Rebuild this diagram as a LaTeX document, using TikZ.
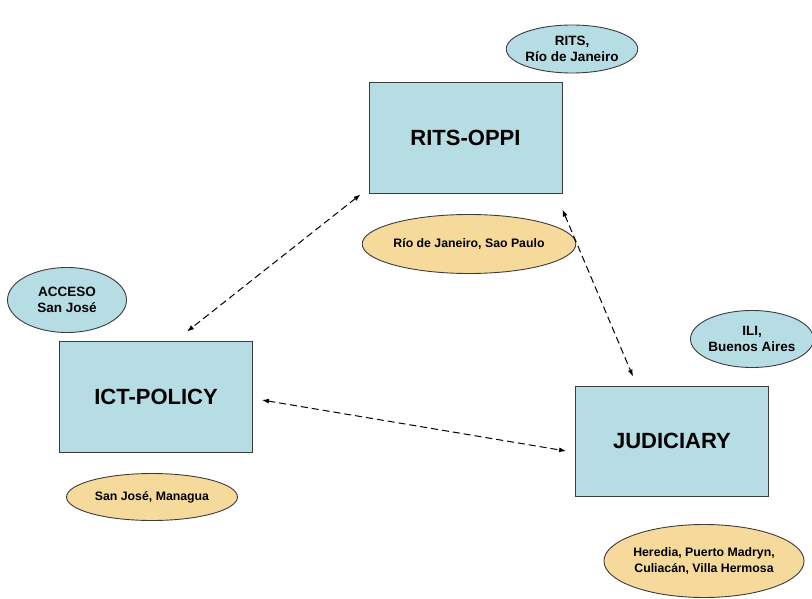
\documentclass[tikz,border=0pt]{standalone}
\usepackage{fontspec}
\setmainfont{Liberation Sans}
\usepackage{tikz}
\usetikzlibrary{shapes.geometric}
\usetikzlibrary{arrows.meta}

\definecolor{boxblue}{RGB}{183,221,228}
\definecolor{ovalsand}{RGB}{246,218,155}
\definecolor{rimgray}{RGB}{60,60,60}

\begin{document}
\begin{tikzpicture}[x=1pt,y=-1pt,
unit box/.style={rectangle,draw=rimgray,line width=0.9pt,fill=boxblue,inner sep=0,
                 minimum width=193pt,minimum height=111pt,
                 font=\fontsize{22}{26}\selectfont\bfseries},
site oval/.style={ellipse,draw=rimgray,line width=0.9pt,fill=boxblue,inner sep=0,align=center,
                 font=\fontsize{13.5}{16.5}\selectfont\bfseries},
city oval/.style={ellipse,draw=rimgray,line width=0.9pt,fill=ovalsand,inner sep=0,align=center,
                 font=\fontsize{12.3}{16.5}\selectfont\bfseries},
link/.style={dashed,dash pattern=on 7pt off 4pt,line width=1pt,
                 {Latex[length=7pt,width=5pt]}-{Latex[length=7pt,width=5pt]}}]
\useasboundingbox (0,0) rectangle (812,599);
%==================
\node[unit box] (rits) at (465.5,137.5) {RITS-OPPI};
\node[unit box] (ict) at (156,396.5) {ICT-POLICY};
\node[unit box,minimum height=110pt] (jud) at (672,441) {JUDICIARY};
%==================
\node[site oval,minimum width=127pt,minimum height=48pt] (ritsoval) at (572,49) {RITS,\\Río de Janeiro};
\node[site oval,minimum width=119pt,minimum height=65pt] (acceso) at (67,300) {ACCESO\\San José};
\node[site oval,minimum width=120pt,minimum height=57pt] (ili) at (752,339) {ILI,\\Buenos Aires};
%==================
\node[city oval,minimum width=172pt,minimum height=59pt] (rio) at (469,244) {Río de Janeiro, Sao Paulo};
\node[city oval,minimum width=171pt,minimum height=47pt] (sanjose) at (152,497) {San José, Managua};
\node[city oval,minimum width=171pt,minimum height=73pt] (heredia) at (704,561) {Heredia, Puerto Madryn,\\Culiacán, Villa Hermosa};
% ===================
\draw[link] ([xshift=-8pt,yshift=-1pt]rits.south west) -- ([xshift=31pt,yshift=9pt]ict.north);
\draw[link] ([yshift=-16pt]rits.south east) -- ([xshift=-39pt,yshift=9pt]jud.north);
\draw[link] ([xshift=9pt,yshift=-3.5pt]ict.east) -- ([xshift=-9pt,yshift=-10pt]jud.west);
\end{tikzpicture}
\end{document}
